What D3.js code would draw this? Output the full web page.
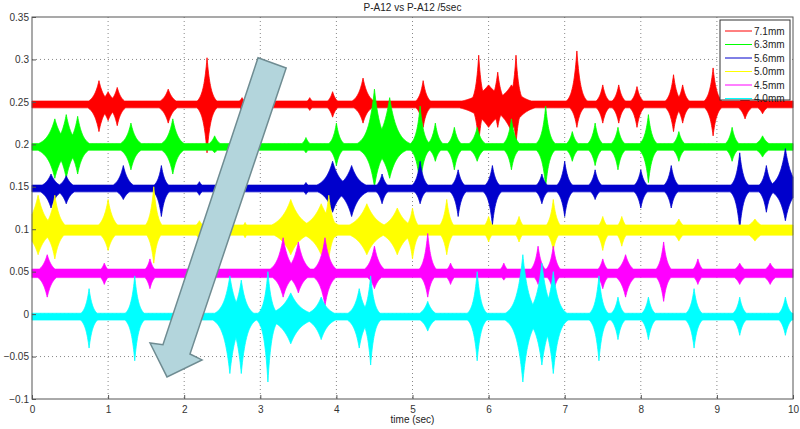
<!DOCTYPE html>
<html>
<head>
<meta charset="utf-8">
<script src="https://cdn.jsdelivr.net/npm/d3@7"></script>
<style>
body { margin: 0; background: #fff; }
text { font-family: Arial, "Liberation Sans", sans-serif; }
</style>
</head>
<body>
<div id="chart"></div>
<script>
// series: name, colour, baseline, background half-width
var names = ["7.1mm", "6.3mm", "5.6mm", "5.0mm", "4.5mm", "4.0mm"];
var colors = ["#ff0000", "#00ff00", "#0000cc", "#ffff00", "#ff00ff", "#00ffff"];
var baselines = [0.247, 0.197, 0.148, 0.099, 0.048, -0.003];
var noise = [0.004, 0.004, 0.004, 0.006, 0.005, 0.004];

// bursts: [time, top, bottom, spread(sec)]
var redBursts = [[0.88,0.275,0.215,0.07],[1.0,0.262,0.228,0.08],[1.12,0.267,0.222,0.06],[1.79,0.265,0.225,0.07],
  [2.3,0.302,0.19,0.05],[2.76,0.255,0.24,0.05],[3.65,0.255,0.24,0.05],[3.95,0.262,0.232,0.05],[4.35,0.278,0.225,0.07],
  [5.14,0.275,0.22,0.05],[5.87,0.305,0.2,0.04],[6.0,0.27,0.22,0.2],[6.12,0.285,0.22,0.05],[6.3,0.27,0.215,0.15],
  [6.36,0.305,0.2,0.04],[7.16,0.31,0.22,0.05],[7.5,0.27,0.225,0.05],[7.71,0.27,0.225,0.05],[7.95,0.268,0.22,0.05],
  [8.43,0.282,0.215,0.05],[8.55,0.27,0.225,0.05],[8.95,0.29,0.21,0.05],[9.37,0.26,0.23,0.06],[9.6,0.256,0.236,0.06]];
var greenBursts = [[0.3,0.23,0.16,0.1],[0.45,0.235,0.16,0.08],[0.6,0.233,0.165,0.07],[1.3,0.225,0.17,0.07],
  [1.85,0.23,0.165,0.07],[2.4,0.21,0.19,0.06],[3.6,0.208,0.19,0.05],[4.0,0.225,0.175,0.05],[4.5,0.265,0.15,0.08],
  [4.7,0.255,0.16,0.1],[5.1,0.245,0.15,0.05],[5.3,0.225,0.18,0.05],[5.55,0.22,0.17,0.05],[5.85,0.22,0.18,0.06],
  [6.3,0.23,0.17,0.05],[6.75,0.245,0.15,0.05],[7.1,0.215,0.18,0.05],[7.4,0.225,0.175,0.05],[7.7,0.22,0.17,0.05],
  [8.1,0.235,0.155,0.05],[8.5,0.215,0.18,0.05],[9.2,0.22,0.18,0.05],[9.6,0.21,0.185,0.07]];
var blueBursts = [[0.25,0.165,0.125,0.08],[0.45,0.163,0.13,0.07],[1.2,0.175,0.135,0.07],[1.7,0.175,0.115,0.05],
  [2.2,0.156,0.14,0.05],[3.6,0.155,0.141,0.05],[3.95,0.18,0.12,0.1],[4.2,0.175,0.115,0.1],[4.6,0.165,0.13,0.05],
  [5.1,0.18,0.13,0.05],[5.6,0.17,0.115,0.05],[6.05,0.175,0.105,0.05],[6.7,0.165,0.13,0.05],[7.0,0.18,0.115,0.05],
  [7.4,0.17,0.135,0.05],[8.0,0.17,0.125,0.05],[8.4,0.175,0.125,0.05],[9.3,0.19,0.1,0.05],[9.65,0.175,0.12,0.05],
  [9.9,0.195,0.11,0.08]];
var yellowBursts = [[0.08,0.14,0.07,0.1],[0.3,0.14,0.065,0.07],[1.0,0.135,0.075,0.07],[1.6,0.15,0.06,0.05],
  [2.2,0.11,0.088,0.07],[2.8,0.108,0.09,0.05],[3.4,0.135,0.07,0.14],[3.8,0.13,0.07,0.14],[3.9,0.14,0.065,0.05],
  [4.4,0.13,0.07,0.14],[4.8,0.125,0.07,0.12],[5.0,0.125,0.065,0.05],[5.45,0.135,0.07,0.05],[6.0,0.115,0.085,0.05],
  [6.4,0.115,0.085,0.05],[6.85,0.135,0.075,0.05],[7.5,0.115,0.075,0.05],[7.75,0.115,0.08,0.05],[8.5,0.112,0.086,0.07],
  [9.5,0.112,0.086,0.1]];
var magentaBursts = [[0.2,0.07,0.02,0.07],[0.95,0.06,0.035,0.05],[1.55,0.065,0.03,0.05],[2.3,0.054,0.042,0.05],
  [3.3,0.09,0.02,0.08],[3.5,0.085,0.025,0.08],[3.85,0.09,0.01,0.07],[4.5,0.08,0.03,0.07],[5.2,0.095,0.02,0.05],
  [5.5,0.06,0.035,0.05],[6.2,0.06,0.04,0.05],[6.65,0.08,0.035,0.05],[6.85,0.08,0.025,0.05],[7.5,0.065,0.03,0.05],
  [7.8,0.07,0.02,0.07],[8.3,0.085,0.015,0.05],[8.75,0.065,0.035,0.05],[9.3,0.06,0.035,0.07],[9.7,0.06,0.035,0.07]];
var cyanBursts = [[0.75,0.03,-0.04,0.05],[1.35,0.045,-0.055,0.05],[2.6,0.045,-0.07,0.08],[2.75,0.04,-0.07,0.07],
  [3.1,0.05,-0.08,0.05],[3.4,0.025,-0.035,0.14],[3.8,0.02,-0.03,0.1],[4.3,0.03,-0.04,0.07],[4.45,0.045,-0.06,0.05],
  [5.2,0.015,-0.02,0.07],[5.85,0.05,-0.055,0.05],[6.45,0.07,-0.08,0.08],[6.7,0.06,-0.06,0.08],[6.85,0.05,-0.07,0.07],
  [7.45,0.045,-0.055,0.05],[7.7,0.02,-0.03,0.05],[8.1,0.02,-0.03,0.05],[8.7,0.03,-0.04,0.05],[9.3,0.02,-0.025,0.05],
  [9.9,0.02,-0.025,0.05]];
var bursts = [redBursts, greenBursts, blueBursts, yellowBursts, magentaBursts, cyanBursts];

var xTicks = [0,1,2,3,4,5,6,7,8,9,10];
var yTicks = [-0.1,-0.05,0,0.05,0.1,0.15,0.2,0.25,0.3,0.35];
// arrow annotation outline in data units [time, value]
var arrowPts = [[2.97,0.302],[3.34,0.290],[2.076,-0.047],[2.234,-0.054],[1.774,-0.074],[1.551,-0.034],[1.721,-0.036]];

var width = 800, height = 429;
var margin = {top: 17, right: 7, bottom: 30, left: 32};

var svg = d3.select("#chart").append("svg")
    .attr("width", width)
    .attr("height", height);

var x = d3.scaleLinear().domain([0, 10]).range([margin.left, width - margin.right]);
var y = d3.scaleLinear().domain([-0.1, 0.35]).range([height - margin.bottom, margin.top]);

// grid
svg.append("g").selectAll("line.gx").data(xTicks.slice(1, -1)).join("line")
    .attr("x1", d => x(d)).attr("x2", d => x(d))
    .attr("y1", y(0.35)).attr("y2", y(-0.1))
    .attr("stroke", "#888").attr("stroke-dasharray", "1,3");
svg.append("g").selectAll("line.gy").data(yTicks.slice(1, -1)).join("line")
    .attr("x1", x(0)).attr("x2", x(10))
    .attr("y1", d => y(d)).attr("y2", d => y(d))
    .attr("stroke", "#888").attr("stroke-dasharray", "1,3");

// signal envelopes
var grid = d3.range(0, 10.0001, 0.005);
function envelope(i) {
  var b = bursts[i], base = baselines[i], n = noise[i];
  return grid.map(function(t) {
    var hi = base + n, lo = base - n;
    b.forEach(function(p) {
      var k = Math.exp(-Math.abs(t - p[0]) / p[3]);
      hi = Math.max(hi, base + (p[1] - base) * k);
      lo = Math.min(lo, base + (p[2] - base) * k);
    });
    return {t: t, hi: hi, lo: lo};
  });
}
var area = d3.area().x(d => x(d.t)).y0(d => y(d.lo)).y1(d => y(d.hi));
names.forEach(function(nm, i) {
  svg.append("path")
      .attr("d", area(envelope(i)))
      .attr("fill", colors[i])
      .attr("stroke", colors[i])
      .attr("stroke-width", 0.8);
});

// axes box
var xAxis = d3.axisBottom(x).tickValues(xTicks).tickSize(-4).tickFormat(d3.format("d"));
var yAxis = d3.axisLeft(y).tickValues(yTicks).tickSize(-4).tickFormat(d => d === 0 ? "0" : d3.format("")(+d.toFixed(2)));
var gx = svg.append("g").attr("transform", "translate(0," + y(-0.1) + ")").call(xAxis);
var gy = svg.append("g").attr("transform", "translate(" + x(0) + ",0)").call(yAxis);
[gx, gy].forEach(function(g) {
  g.select(".domain").remove();
  g.selectAll("line").attr("stroke", "#555");
  g.selectAll("text").attr("font-size", 10).attr("fill", "#333");
});
gx.selectAll("text").attr("dy", "1.1em");
svg.append("rect")
    .attr("x", x(0)).attr("y", y(0.35))
    .attr("width", x(10) - x(0)).attr("height", y(-0.1) - y(0.35))
    .attr("fill", "none").attr("stroke", "#555");

// arrow annotation
svg.append("path")
    .attr("d", d3.line().x(d => x(d[0])).y(d => y(d[1]))(arrowPts) + "Z")
    .attr("fill", "#b3d5dc")
    .attr("stroke", "#6f8c92")
    .attr("stroke-width", 1.5);

// title and label
svg.append("text").attr("x", (x(0) + x(10)) / 2).attr("y", 11)
    .attr("text-anchor", "middle").attr("font-size", 10).attr("fill", "#222")
    .text("P-A12 vs P-A12 /5sec");
svg.append("text").attr("x", (x(0) + x(10)) / 2).attr("y", 423)
    .attr("text-anchor", "middle").attr("font-size", 10).attr("fill", "#222")
    .text("time (sec)");

// legend
var lg = svg.append("g").attr("transform", "translate(720,20)");
lg.append("rect").attr("width", 70).attr("height", 80)
    .attr("fill", "#fff").attr("stroke", "#333");
names.forEach(function(nm, i) {
  var yy = 11 + i * 13.5;
  lg.append("line").attr("x1", 5).attr("x2", 32).attr("y1", yy).attr("y2", yy)
      .attr("stroke", colors[i]).attr("stroke-width", 1);
  lg.append("text").attr("x", 34).attr("y", yy + 3.5)
      .attr("font-size", 10).attr("fill", "#222").text(nm);
});
</script>
</body>
</html>
